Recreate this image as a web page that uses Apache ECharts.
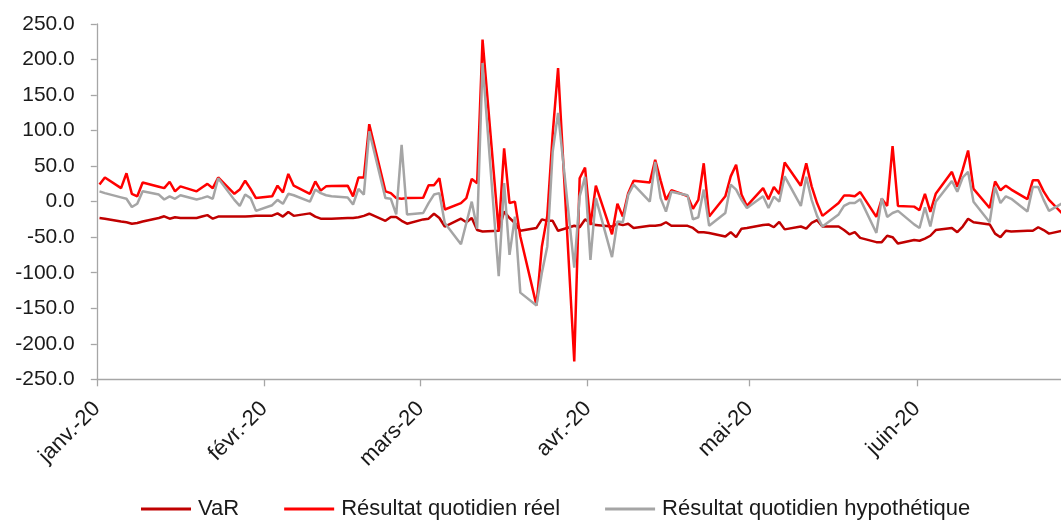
<!DOCTYPE html>
<html lang="fr">
<head>
<meta charset="utf-8">
<title>VaR et résultats quotidiens</title>
<script src="https://cdn.jsdelivr.net/npm/echarts@6/dist/echarts.min.js"></script>
<style>
  html, body { margin: 0; padding: 0; background: #ffffff; }
  #chart { width: 1061px; height: 520px; }
</style>
</head>
<body>
<div id="chart"></div>
<script>
// Trading days, January to June 2020
const dates = [
  '2020-01-02','2020-01-03','2020-01-06','2020-01-07','2020-01-08','2020-01-09','2020-01-10','2020-01-13','2020-01-14','2020-01-15','2020-01-16','2020-01-17','2020-01-20','2020-01-21','2020-01-22','2020-01-23','2020-01-24','2020-01-27','2020-01-28','2020-01-29','2020-01-30','2020-01-31',
  '2020-02-03','2020-02-04','2020-02-05','2020-02-06','2020-02-07','2020-02-10','2020-02-11','2020-02-12','2020-02-13','2020-02-14','2020-02-17','2020-02-18','2020-02-19','2020-02-20','2020-02-21','2020-02-24','2020-02-25','2020-02-26','2020-02-27','2020-02-28',
  '2020-03-02','2020-03-03','2020-03-04','2020-03-05','2020-03-06','2020-03-09','2020-03-10','2020-03-11','2020-03-12','2020-03-13','2020-03-16','2020-03-17','2020-03-18','2020-03-19','2020-03-20','2020-03-23','2020-03-24','2020-03-25','2020-03-26','2020-03-27','2020-03-30','2020-03-31',
  '2020-04-01','2020-04-02','2020-04-03','2020-04-06','2020-04-07','2020-04-08','2020-04-09','2020-04-10','2020-04-13','2020-04-14','2020-04-15','2020-04-16','2020-04-17','2020-04-20','2020-04-21','2020-04-22','2020-04-23','2020-04-24','2020-04-27','2020-04-28','2020-04-29','2020-04-30',
  '2020-05-01','2020-05-04','2020-05-05','2020-05-06','2020-05-07','2020-05-08','2020-05-11','2020-05-12','2020-05-13','2020-05-14','2020-05-15','2020-05-18','2020-05-19','2020-05-20','2020-05-21','2020-05-22','2020-05-25','2020-05-26','2020-05-27','2020-05-28','2020-05-29',
  '2020-06-01','2020-06-02','2020-06-03','2020-06-04','2020-06-05','2020-06-08','2020-06-09','2020-06-10','2020-06-11','2020-06-12','2020-06-15','2020-06-16','2020-06-17','2020-06-18','2020-06-19','2020-06-22','2020-06-23','2020-06-24','2020-06-25','2020-06-26','2020-06-29','2020-06-30'
];

const varValues = [
  -23,-24,-28,-29,-31,-30,-28,-23,-20.6,-24,-22,-23,-23,-21,-19,-24,-21,-21,-21,-21,-20.5,-20,
  -19.7,-16.5,-21,-14.5,-20,-16.5,-21,-24,-24,-24,-23,-23,-22,-20,-17,-27,-21.5,-21.5,-27,-31,
  -25,-24,-17,-23,-35,-24,-29,-23,-40,-42,-41,-14,-23,-30,-41,-37,-25,-27,-27,-41,-34,-36,
  -25,-30,-33,-35,-31,-33,-31,-37,-34,-34,-33,-29,-34,-34,-37,-43,-43,-44,-49,-43,-50,-38,
  -37,-33,-32,-36,-28.5,-39,-35,-38,-30,-26,-35,-35,-40,-46,-43,-51,-57,-57,-48,-50,-59,
  -54,-55,-52,-48,-40,-37,-43,-35,-24,-29,-32,-45,-50,-41,-42,-41,-41,-36,-40,-45,-40,-42
];

const resultatReel = [
  24,34,19,40,11,7.5,27,21,19,28,14.5,21.5,14.5,20,25,19,34,11,17,29.5,18,5,
  7.5,22.5,13,39,22.5,11,28.5,15.5,21.5,22,22.5,7.5,34,34,109,14.5,12,5,4,5,
  5.5,23,23,33,-11,-2,5,32,26,228,-42,75,-2,0,-49,-146,-63,-20,95,188,-225,33,
  48,-33,22.5,-46,-3,-21,12,29.5,27,59,30,2.5,16,8,-10,2.5,54,-21,7.5,35.6,52,10,
  -6,19,3.5,20.6,10.8,55,22.5,54,21.5,-2,-20,-2,8.5,8.5,7.5,13.5,-21.5,4,-6,78,-6,
  -7,-12,11,-14.5,11,42,21,45,72,18,-9,28.5,16,22.5,17,3.5,30,30,14.5,2.5,-21,-12
];

const resultatHypothetique = [
  14.5,12,6,4,-7.5,-3,14.5,10,3,7.5,4,9,3,5,7.5,4,33,2.5,-6,10,5,-13,
  -5,2.5,-3,11,9,0,17,12,9,7.5,6,-4,18,10,99,5,4,-18,80,-18,
  -16,-2,10,12,-30,-60,-30,0,-38,195,-105,26,-75,-21,-128,-146,-100,-63,70,125,-93,7.5,
  35,-82,5,-78,-28,-29,9.5,24,0,56,5,-14,14,9,-25,-22,17,-34,-16,24,17,2.5,
  -9,7.5,-9,7,0,35.6,-6,35,2.5,-20,-35,-18,-6,-2,-2,3.5,-44,5,-21.5,-16,-13,
  -32,-37,-8,-35,0,29,14,34,42,0,-29,20.6,-2,7.5,4,-14,20.6,20.6,2.5,-13,0,-6
];

// Month ticks of the date axis and their labels
const tickDates = ['2020-01-02','2020-02-02','2020-03-02','2020-04-02','2020-05-02','2020-06-02'];
const monthLabels = ['janv.-20','févr.-20','mars-20','avr.-20','mai-20','juin-20'];
const axisStart = '2020-01-02';
const axisEnd = '2020-07-01';

const seriesNames = ['VaR', 'Résultat quotidien réel', 'Résultat quotidien hypothétique'];
const seriesColors = ['#C00000', '#FF0000', '#A5A5A5'];

// Day offset from the axis start; each day occupies one slot, points sit mid-slot
function dayIndex(s) {
  const p = s.split('-').map(Number);
  const b = axisStart.split('-').map(Number);
  return Math.round((Date.UTC(p[0], p[1] - 1, p[2]) - Date.UTC(b[0], b[1] - 1, b[2])) / 86400000);
}
const tickPos = tickDates.map(dayIndex);
const pairs = vals => dates.map((d, i) => [dayIndex(d) + 0.5, vals[i]]);

const FONT = 'Liberation Sans';
const axisColor = '#A6A6A6';

const chart = echarts.init(document.getElementById('chart'), null, { renderer: 'canvas' });
chart.setOption({
  animation: false,
  backgroundColor: '#ffffff',
  textStyle: { fontFamily: FONT },
  grid: {
    left: 96.8, right: -12.3, top: 24, bottom: 140.7,
    containLabel: false, outerBoundsMode: 'none'
  },
  legend: {
    data: seriesNames,
    left: 141, top: 498, padding: 0,
    icon: 'rect', itemWidth: 50, itemHeight: 3, itemGap: 45,
    textStyle: { fontFamily: FONT, fontSize: 22, color: '#1a1a1a', padding: [0, 0, 0, 2] }
  },
  xAxis: {
    type: 'value',
    min: 0,
    max: dayIndex(axisEnd),
    axisLine: { onZero: false, lineStyle: { color: axisColor, width: 1.3 } },
    axisTick: { show: true, length: 7, customValues: tickPos, lineStyle: { color: axisColor, width: 1.3 } },
    axisLabel: {
      customValues: tickPos,
      rotate: 45,
      margin: 26,
      fontFamily: FONT, fontSize: 22, color: '#1a1a1a',
      formatter: v => monthLabels[tickPos.indexOf(Math.round(v))] || ''
    },
    splitLine: { show: false }
  },
  yAxis: {
    type: 'value',
    min: -250, max: 250, interval: 50,
    axisLine: { show: true, lineStyle: { color: axisColor, width: 1.3 } },
    axisTick: { show: true, length: 6, lineStyle: { color: axisColor, width: 1.3 } },
    axisLabel: {
      margin: 22,
      fontFamily: FONT, fontSize: 21, color: '#1a1a1a',
      formatter: v => v.toFixed(1)
    },
    splitLine: { show: false }
  },
  series: [
    { name: seriesNames[0], type: 'line', data: pairs(varValues) },
    { name: seriesNames[1], type: 'line', data: pairs(resultatReel) },
    { name: seriesNames[2], type: 'line', data: pairs(resultatHypothetique) }
  ].map((s, i) => Object.assign(s, {
    symbol: 'none',
    color: seriesColors[i],
    lineStyle: { color: seriesColors[i], width: 2.5 },
    z: 2 + i
  }))
});
</script>
</body>
</html>
